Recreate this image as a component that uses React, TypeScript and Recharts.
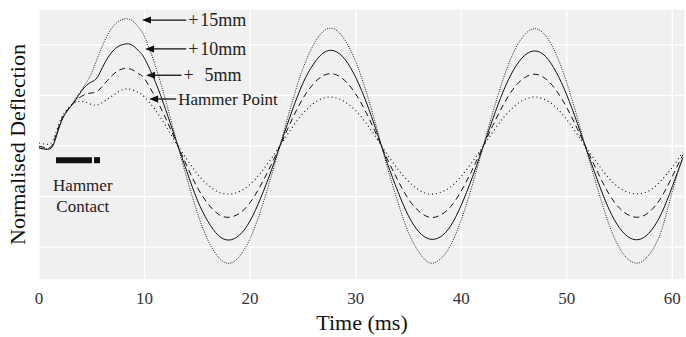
import React from "react"
import {
  LineChart,
  Line,
  XAxis,
  YAxis,
  CartesianGrid,
  ReferenceLine,
  ReferenceArea,
  ReferenceDot,
} from "recharts"

const FONT = '"Liberation Serif", "Times New Roman", serif'

// time samples (ms)
const TIME = [
  0, 1, 1.5, 2, 2.5, 3, 3.5, 4, 4.5, 5, 5.5, 6, 6.5, 7, 7.5, 8, 8.5, 9, 9.5, 10,
  11, 12, 13, 14, 15, 16, 17, 18, 19, 20, 21, 22, 23, 24, 25, 26, 27, 28, 29, 30,
  31, 32, 33, 34, 35, 36, 37, 38, 39, 40, 41, 42, 43, 44, 45, 46, 47, 48, 49, 50,
  51, 52, 53, 54, 55, 56, 57, 58, 59, 60, 61,
]

const HAMMER_POINT = [
  0.06, 0.04, 0.2, 0.5, 0.68, 0.8, 0.87, 0.88, 0.86, 0.82, 0.81, 0.86, 0.93, 1.0, 1.07, 1.12, 1.13, 1.1, 1.05, 0.97,
  0.72, 0.4, 0.05, -0.26, -0.55, -0.77, -0.91, -0.95, -0.9, -0.76, -0.53, -0.25, 0.06, 0.37, 0.64, 0.84, 0.95, 0.96, 0.87, 0.7,
  0.45, 0.15, -0.17, -0.46, -0.7, -0.87, -0.95, -0.92, -0.81, -0.6, -0.33, -0.03, 0.28, 0.56, 0.78, 0.92, 0.97, 0.91, 0.76, 0.52,
  0.23, -0.08, -0.37, -0.64, -0.83, -0.93, -0.94, -0.86, -0.67, -0.42, -0.12,
]

const PLUS_5MM = [
  0.0, -0.03, 0.14, 0.46, 0.66, 0.79, 0.9, 0.98, 1.03, 1.05, 1.08, 1.18, 1.3, 1.41, 1.49, 1.53, 1.53, 1.49, 1.42, 1.33,
  0.97, 0.55, 0.08, -0.39, -0.82, -1.14, -1.35, -1.41, -1.33, -1.12, -0.78, -0.37, 0.08, 0.54, 0.94, 1.23, 1.4, 1.42, 1.29, 1.03,
  0.66, 0.21, -0.26, -0.68, -1.05, -1.29, -1.41, -1.37, -1.2, -0.89, -0.49, -0.04, 0.41, 0.82, 1.15, 1.35, 1.42, 1.33, 1.1, 0.76,
  0.34, -0.11, -0.55, -0.95, -1.23, -1.38, -1.4, -1.27, -1.0, -0.6, -0.17,
]

const PLUS_10MM = [
  -0.04, -0.06, 0.1, 0.42, 0.64, 0.78, 0.92, 1.08, 1.2, 1.27, 1.35, 1.55, 1.74, 1.88, 1.97, 2.01, 2.02, 1.97, 1.87, 1.73,
  1.28, 0.72, 0.1, -0.5, -1.07, -1.49, -1.77, -1.86, -1.76, -1.48, -1.03, -0.49, 0.11, 0.71, 1.24, 1.62, 1.85, 1.88, 1.71, 1.36,
  0.87, 0.28, -0.34, -0.9, -1.38, -1.7, -1.84, -1.8, -1.58, -1.17, -0.65, -0.06, 0.54, 1.09, 1.52, 1.79, 1.88, 1.77, 1.46, 1.01,
  0.45, -0.15, -0.73, -1.25, -1.62, -1.82, -1.84, -1.67, -1.32, -0.8, -0.23,
]

const PLUS_15MM = [
  -0.02, -0.05, 0.11, 0.44, 0.65, 0.79, 0.95, 1.1, 1.26, 1.45, 1.72, 1.98, 2.2, 2.36, 2.46, 2.51, 2.51, 2.45, 2.33, 2.16,
  1.6, 0.9, 0.12, -0.63, -1.32, -1.86, -2.2, -2.32, -2.18, -1.83, -1.28, -0.6, 0.14, 0.88, 1.53, 2.0, 2.28, 2.31, 2.09, 1.67,
  1.07, 0.35, -0.42, -1.11, -1.71, -2.1, -2.31, -2.24, -1.96, -1.46, -0.81, -0.07, 0.67, 1.34, 1.87, 2.2, 2.32, 2.18, 1.81, 1.25,
  0.56, -0.19, -0.9, -1.55, -2.02, -2.27, -2.3, -2.09, -1.65, -0.9, -0.22,
]

const X_TICKS = [0, 10, 20, 30, 40, 50, 60]
const Y_TICKS = [-2, -1, 0, 1, 2]

// arrow labels: tip/tail in ms, y in deflection units
const ARROWS = [
  { plus: "+", num: "15mm", tip: 9.76, tail: 13.95, y: 2.49 },
  { plus: "+", num: "10mm", tip: 10.05, tail: 13.95, y: 1.92 },
  { plus: "+", num: "5mm", tip: 10.14, tail: 13.5, y: 1.4 },
  { plus: "", num: "Hammer Point", tip: 10.43, tail: 13.0, y: 0.93 },
]

const data = TIME.map((t, i) => ({
  t,
  hp: HAMMER_POINT[i],
  p5: PLUS_5MM[i],
  p10: PLUS_10MM[i],
  p15: PLUS_15MM[i],
}))

function arrowShape(a: (typeof ARROWS)[number]) {
  return (props: any) => {
    const { x1, y1, x2, y2 } = props
    const left = Math.min(x1, x2)
    const right = Math.max(x1, x2)
    const y = (y1 + y2) / 2
    return (
      <g>
        <line x1={left + 6} y1={y} x2={right} y2={y} stroke="#111" strokeWidth={1.3} />
        <polygon points={`${left},${y} ${left + 9},${y - 3.5} ${left + 9},${y + 3.5}`} fill="#111" />
        {a.plus ? (
          <>
            <text x={right + 2} y={y + 6} fontFamily={FONT} fontSize={18} fill="#222">
              {a.plus}
            </text>
            <text x={right + 60} y={y + 6} textAnchor="end" fontFamily={FONT} fontSize={18} fill="#222">
              {a.num}
            </text>
          </>
        ) : (
          <text x={right + 2} y={y + 6} fontFamily={FONT} fontSize={17} fill="#222">
            {a.num}
          </text>
        )}
      </g>
    )
  }
}

function textDot(label: string) {
  return (props: any) => (
    <text x={props.cx} y={props.cy} textAnchor="middle" dominantBaseline="central" fontFamily={FONT} fontSize={17} fill="#222">
      {label}
    </text>
  )
}

export default function App() {
  return (
    <div style={{ position: "absolute", left: 0, top: 0, background: "#fff" }}>
      <LineChart width={686} height={337} data={data} margin={{ top: 9, right: 1, left: 0, bottom: 0 }}>
        <CartesianGrid fill="#f0f0f0" stroke="#ffffff" strokeWidth={1.3} />
        <XAxis
          dataKey="t"
          type="number"
          domain={[0, 61.2]}
          ticks={X_TICKS}
          allowDataOverflow
          height={57}
          axisLine={false}
          tickLine={false}
          tickSize={0}
          tickMargin={12}
          tick={{ fontFamily: FONT, fontSize: 17, fill: "#333" }}
          label={{ value: "Time (ms)", position: "insideBottom", offset: 7, fontFamily: FONT, fontSize: 22, fill: "#111" }}
        />
        <YAxis
          type="number"
          domain={[-2.65, 2.71]}
          ticks={Y_TICKS}
          allowDataOverflow
          width={39}
          axisLine={false}
          tickLine={false}
          tick={() => <g />}
          label={{ value: "Normalised Deflection", angle: -90, position: "center", dx: -2, fontFamily: FONT, fontSize: 22, fill: "#111" }}
        />
        <Line type="natural" dataKey="hp" stroke="#111" strokeWidth={1.1} strokeDasharray="1 3" dot={false} isAnimationActive={false} />
        <Line type="natural" dataKey="p5" stroke="#111" strokeWidth={1} strokeDasharray="6 4" dot={false} isAnimationActive={false} />
        <Line type="natural" dataKey="p10" stroke="#111" strokeWidth={1} dot={false} isAnimationActive={false} />
        <Line type="natural" dataKey="p15" stroke="#222" strokeWidth={1} strokeDasharray="1 1.3" dot={false} isAnimationActive={false} />
        <ReferenceArea x1={1.61} x2={5.02} y1={-0.34} y2={-0.22} fill="#111" fillOpacity={1} stroke="none" />
        <ReferenceArea x1={5.21} x2={5.78} y1={-0.34} y2={-0.22} fill="#111" fillOpacity={1} stroke="none" />
        <ReferenceDot x={4.15} y={-0.79} r={0} shape={textDot("Hammer")} />
        <ReferenceDot x={4.15} y={-1.19} r={0} shape={textDot("Contact")} />
        {ARROWS.map((a) => (
          <ReferenceLine
            key={a.num}
            segment={[
              { x: a.tip, y: a.y },
              { x: a.tail, y: a.y },
            ]}
            shape={arrowShape(a)}
          />
        ))}
      </LineChart>
    </div>
  )
}
